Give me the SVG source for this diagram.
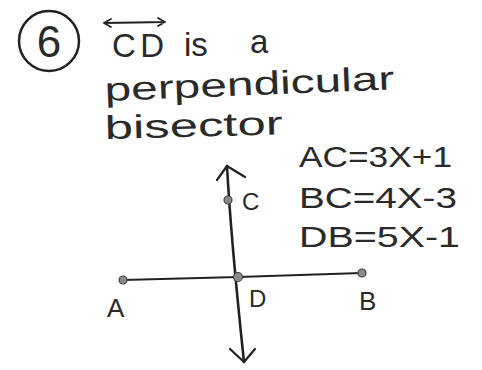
<svg xmlns="http://www.w3.org/2000/svg" width="482" height="370" viewBox="0 0 482 370">
<style>
.t{font-family:"Liberation Sans",Arial,sans-serif;fill:#2a2a2a;}
.ln{fill:none;stroke:#222;stroke-linecap:round;stroke-linejoin:round;}
.pt{fill:#8a8a8a;stroke:#444;stroke-width:1.2;}
</style>
<rect width="482" height="370" fill="#fff"/>
<g id="title">
<ellipse cx="49" cy="41" rx="30" ry="30" class="ln" stroke-width="2.5"/>
<text class="t" x="49" y="57" font-size="44" text-anchor="middle">6</text>
<path class="ln" stroke-width="1.8" d="M104 23 L165 22 M104 23 l7 -4 M104 23 l7 4 M165 22 l-7 -4 M165 22 l-7 4"/>
<text class="t" x="112" y="57" font-size="33" textLength="52" lengthAdjust="spacing">CD</text>
<text class="t" x="184" y="56" font-size="33">is</text>
<text class="t" x="250" y="53" font-size="33">a</text>
<text class="t" x="105" y="101" font-size="33" textLength="290" lengthAdjust="spacingAndGlyphs" transform="rotate(-2.3 105 101)">perpendicular</text>
<text class="t" x="105" y="139" font-size="33" textLength="178" lengthAdjust="spacingAndGlyphs" transform="rotate(-1.5 105 139)">bisector</text>
</g>
<g id="equations">
<text class="t" x="299" y="167" font-size="30" textLength="153" lengthAdjust="spacingAndGlyphs">AC=3X+1</text>
<text class="t" x="299" y="208" font-size="30" textLength="158" lengthAdjust="spacingAndGlyphs">BC=4X-3</text>
<text class="t" x="299" y="247" font-size="30" textLength="161" lengthAdjust="spacingAndGlyphs">DB=5X-1</text>
</g>
<g id="connectors">
<path id="lineCD" class="ln" stroke-width="2.6" d="M227 166 Q231 240 244 362"/>
<path class="ln" stroke-width="2.2" d="M217 180 L227 166 L245 177"/>
<path class="ln" stroke-width="2.2" d="M230 349 L244 362 L255 349"/>
<path id="segAB" class="ln" stroke-width="2.2" d="M123 280 L238 277 L362 273"/>
</g>
<g id="nodeC"><circle class="pt" cx="228" cy="200" r="4"/><text class="t" x="242" y="210" font-size="24">C</text></g>
<g id="nodeD"><circle class="pt" cx="238" cy="277" r="4.5"/><text class="t" x="249" y="307" font-size="24">D</text></g>
<g id="nodeA"><circle class="pt" cx="123" cy="280" r="4"/><text class="t" x="107" y="317" font-size="26">A</text></g>
<g id="nodeB"><circle class="pt" cx="362" cy="273" r="4"/><text class="t" x="359" y="310" font-size="26">B</text></g>
</svg>
